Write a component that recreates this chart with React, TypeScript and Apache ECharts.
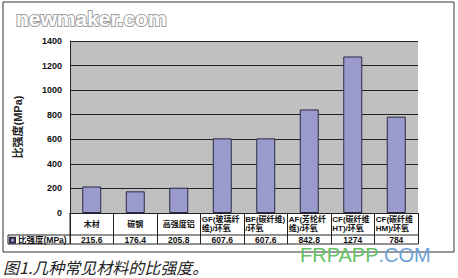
import React, { useEffect, useRef } from "react";
import * as echarts from "echarts";

// Materials (two-line names carry an explicit break) and their specific strength in MPa
const categories = [
  "木材",
  "碳钢",
  "高强度铝",
  "GF(玻璃纤\n维)/环氧",
  "BF(碳纤维)\n/环氧",
  "AF(芳纶纤\n维)/环氧",
  "CF(碳纤维\nHT)/环氧",
  "CF(碳纤维\nHM)/环氧",
];
const strength = [215.6, 176.4, 205.8, 607.6, 607.6, 842.8, 1274, 784];
const seriesName = "比强度(MPa)";
const yTicks = { min: 0, max: 1400, interval: 200 };

const W = 458;
const H = 278;
const GRID = { left: 70, top: 41, right: 40, bottom: 65 };
const FONT = "'Liberation Sans', Arial, 'Noto Sans CJK SC', sans-serif";

export default function App() {
  const ref = useRef<HTMLDivElement>(null);

  useEffect(() => {
    document.body.style.margin = "0";
    const chart = echarts.init(ref.current!, null, { renderer: "svg", width: W, height: H });

    const gx0 = GRID.left;
    const gx1 = W - GRID.right;
    const gyBase = H - GRID.bottom;
    const row1 = gyBase + 22;
    const row2 = gyBase + 31;
    const lineStyle = { stroke: "#222", lineWidth: 1 };

    chart.setOption({
      animation: false,
      backgroundColor: "#ffffff",
      textStyle: { fontFamily: FONT },
      grid: {
        ...GRID,
        show: true,
        backgroundColor: "#c0c0c0",
        borderWidth: 0,
        outerBoundsMode: "none",
      },
      legend: {
        data: [seriesName],
        left: 9,
        top: row1 + 1,
        padding: 0,
        itemWidth: 5,
        itemHeight: 5,
        icon: "rect",
        selectedMode: false,
        textStyle: {
          fontSize: 8.5,
          fontWeight: "bold",
          color: "#111",
          fontFamily: FONT,
          padding: [0, 0, 0, -2],
        },
      },
      xAxis: [
        {
          type: "category",
          data: categories,
          position: "bottom",
          axisLine: { show: true, lineStyle: { color: "#222", width: 1 } },
          axisTick: { show: true, length: 31, lineStyle: { color: "#222", width: 1 } },
          axisLabel: {
            interval: 0,
            margin: 11,
            verticalAlign: "middle",
            fontSize: 8,
            fontWeight: "bold",
            color: "#111",
            lineHeight: 9,
            formatter: (v: string) =>
              v.includes("\n")
                ? v
                    .split("\n")
                    .map((s) => `{l|${s}}`)
                    .join("\n")
                : v,
            rich: {
              l: {
                width: 41,
                align: "left",
                fontSize: 8,
                fontWeight: "bold",
                lineHeight: 9,
                color: "#111",
              },
            },
          },
        },
        {
          type: "category",
          data: strength.map((v) => String(v)),
          position: "bottom",
          axisLine: { show: false },
          axisTick: { show: false },
          axisLabel: {
            interval: 0,
            margin: 27,
            verticalAlign: "middle",
            fontSize: 8.5,
            fontWeight: "bold",
            color: "#111",
          },
        },
      ],
      yAxis: {
        type: "value",
        ...yTicks,
        name: seriesName,
        nameLocation: "middle",
        nameRotate: 90,
        nameGap: 47,
        nameTextStyle: { fontSize: 11, fontWeight: "bold", color: "#222", fontFamily: FONT },
        axisLine: { show: true, lineStyle: { color: "#222", width: 1 } },
        axisTick: { show: false },
        axisLabel: {
          fontSize: 9,
          fontWeight: "bold",
          color: "#111",
          margin: 8,
          formatter: (v: number) => String(v),
        },
        splitLine: { show: true, lineStyle: { color: "#222", width: 1 } },
      },
      series: [
        {
          name: seriesName,
          type: "bar",
          data: strength,
          barWidth: 19,
          itemStyle: { color: "#9a9acc", borderColor: "#2a2a44", borderWidth: 1 },
        },
      ],
      graphic: [
        // chart frame
        {
          type: "rect",
          shape: { x: 3, y: 2, width: 451, height: 250 },
          style: { fill: "none", stroke: "#333", lineWidth: 1 },
          silent: true,
        },
        // data-table rules
        { type: "line", shape: { x1: 8, y1: row1, x2: gx1, y2: row1 }, style: lineStyle, silent: true },
        { type: "line", shape: { x1: 8, y1: row2, x2: gx1, y2: row2 }, style: lineStyle, silent: true },
        { type: "line", shape: { x1: 8, y1: row1, x2: 8, y2: row2 }, style: lineStyle, silent: true },
        { type: "line", shape: { x1: gx0, y1: gyBase, x2: gx0, y2: row2 }, style: lineStyle, silent: true },
        // site marks
        {
          type: "text",
          left: 15,
          top: 7,
          style: {
            text: "newmaker.com",
            fill: "#ffffff",
            fontSize: 21,
            fontWeight: "bold",
            fontFamily: FONT,
            stroke: "#a0a0a0",
            lineWidth: 2,
            shadowColor: "rgba(120,120,120,0.8)",
            shadowBlur: 3,
          },
          silent: true,
        },
        {
          type: "text",
          left: 300,
          top: 245,
          style: {
            text: "{g|FRPAPP}{b|.COM}",
            fontSize: 20,
            fontFamily: FONT,
            rich: {
              g: { fill: "#66c066", fontSize: 20, fontFamily: FONT },
              b: { fill: "#6b9fd6", fontSize: 20, fontFamily: FONT },
            },
          },
          silent: true,
        },
        {
          type: "text",
          left: 3,
          top: 258,
          style: {
            text: "图1.几种常见材料的比强度。",
            fill: "#222",
            fontSize: 16,
            lineHeight: 18,
            fontStyle: "italic",
            fontFamily: "'Noto Sans CJK SC', sans-serif",
          },
          silent: true,
        },
      ],
    });

    return () => chart.dispose();
  }, []);

  return <div ref={ref} style={{ width: W, height: H }} />;
}
